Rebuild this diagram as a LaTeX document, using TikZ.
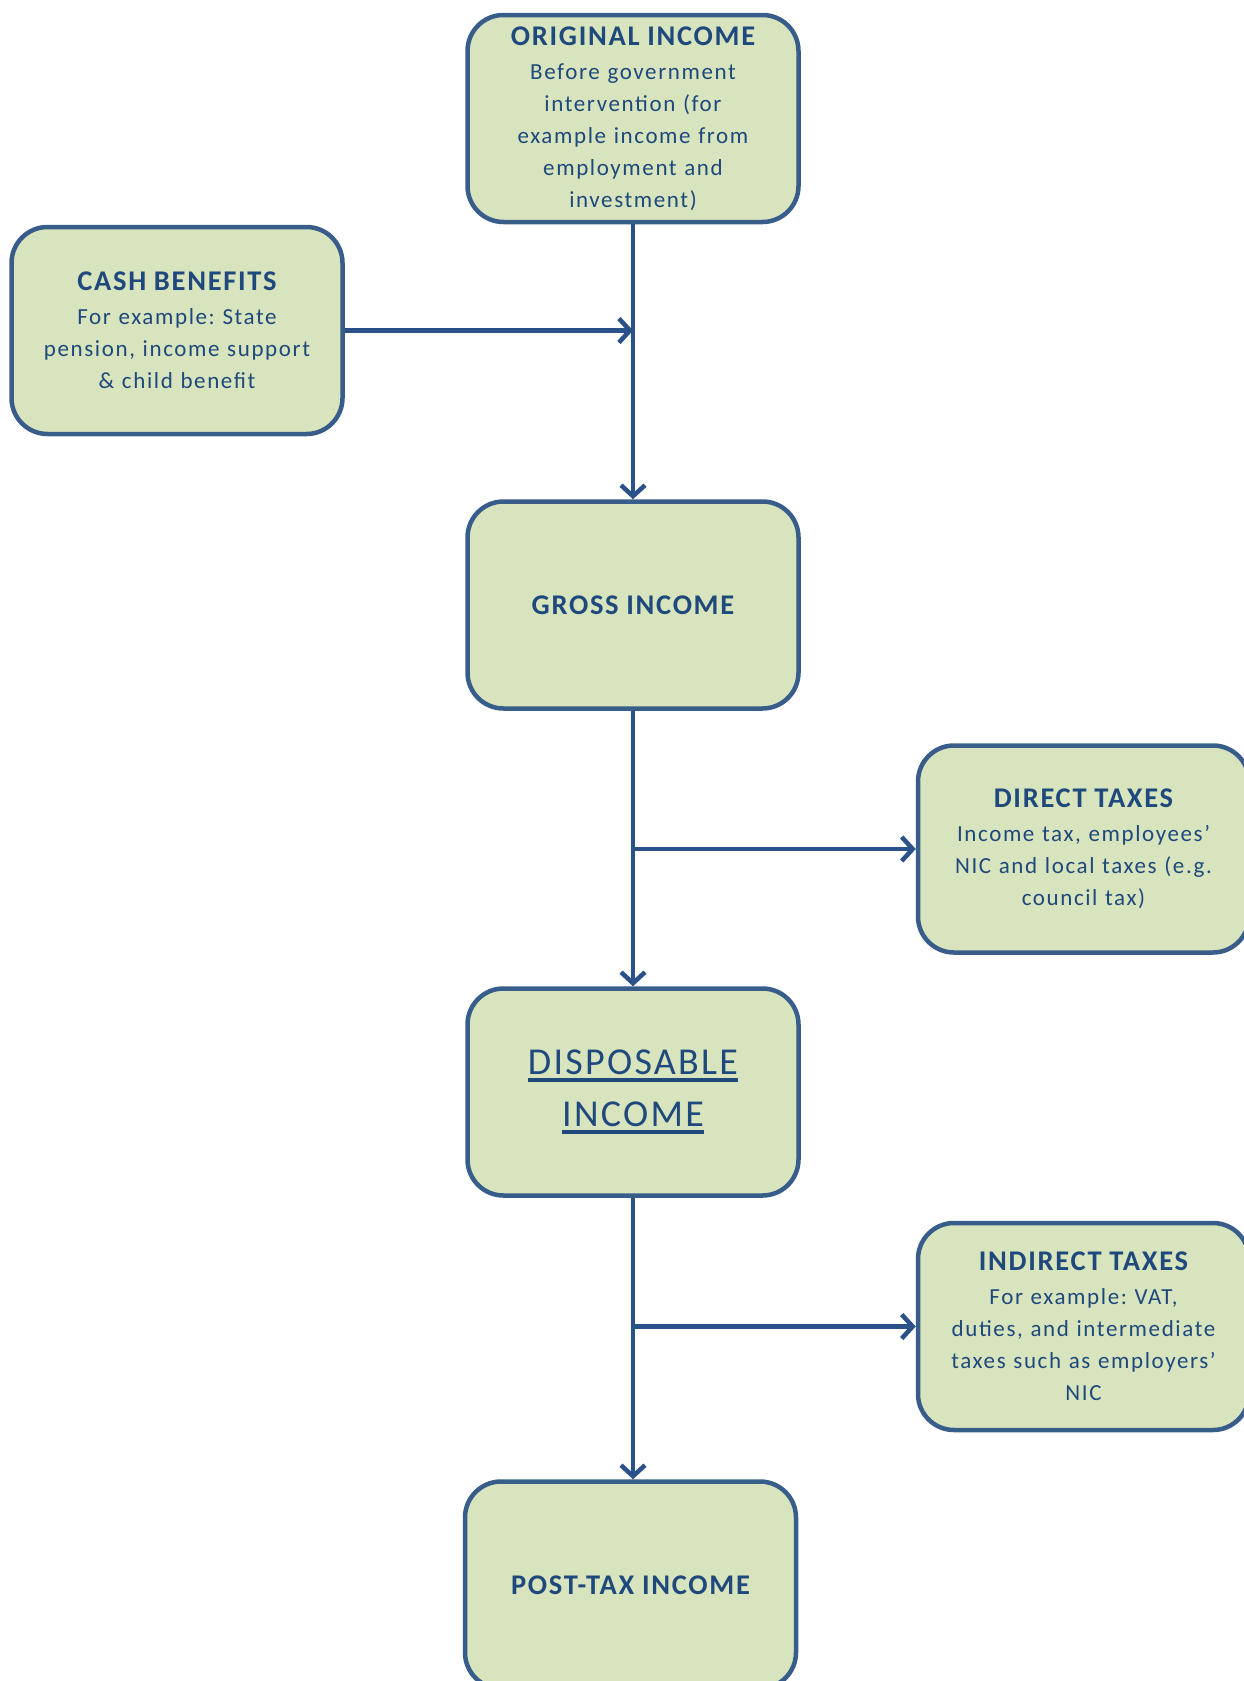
\documentclass[tikz,border=0pt]{standalone}
\usepackage{fontspec}
\setmainfont{Carlito}
\usetikzlibrary{arrows.meta}
\definecolor{boxfill}{HTML}{D7E4BD}
\definecolor{boxline}{HTML}{385D8A}
\definecolor{txt}{HTML}{1F497D}
\definecolor{arr}{HTML}{2A5189}
\frenchspacing
\tikzset{
  box/.style={draw=boxline, fill=boxfill, line width=4.5pt, rounded corners=36pt,
    minimum width=331pt, minimum height=207pt, text width=310pt, align=center,
    text=txt, inner sep=0pt, font=\fontsize{23}{32}\selectfont\addfontfeature{LetterSpace=7}},
  flow/.style={draw=arr, line width=4.5pt, -{Straight Barb[length=11pt,width=24pt,line width=4.5pt]}}
}
\newcommand{\ttlfont}{\fontsize{28.5}{32}\selectfont\bfseries\addfontfeature{LetterSpace=6}}
\newcommand{\thickul}[1]{\leavevmode\vtop{\hbox{#1}\kern3pt\hrule height 3.5pt}}
\begin{document}
\begin{tikzpicture}[x=1pt,y=-1pt]
\useasboundingbox (0,0) rectangle (1244,1681);
\begin{scope}
\clip (0,0) rectangle (1244,1681);
\node[box] (orig) at (633,118.5) {{\ttlfont ORIGINAL INCOME}\\[2pt]Before government\\ intervention (for\\ example income from\\ employment and\\ investment)};
\node[box] (cash) at (177,330.5) {{\ttlfont CASH BENEFITS}\\[2pt]For example: State\\ pension, income support\\ \& child benefit};
\node[box] (gross) at (633,605) {\ttlfont GROSS INCOME};
\node[box] (direct) at (1083.5,849) {{\ttlfont DIRECT TAXES}\\[2pt]Income tax, employees’\\ NIC and local taxes (e.g.\\ council tax)};
\node[box, font=\fontsize{38}{52}\selectfont\addfontfeature{LetterSpace=6}] (disp) at (633,1092) {\thickul{DISPOSABLE}\\ \thickul{INCOME}};
\node[box] (indirect) at (1083.5,1326.5) {{\ttlfont INDIRECT TAXES}\\[2pt]For example: VAT,\\ duties, and intermediate\\ taxes such as employers’\\ NIC};
\node[box] (post) at (630.5,1585) {\ttlfont POST-TAX INCOME};
\end{scope}
\coordinate (j1) at (633,330.5);
\coordinate (j2) at (633,849);
\coordinate (j3) at (633,1326.5);
\draw[flow] (orig.south) -- (gross.north);
\draw[flow] (cash.east) -- (j1);
\draw[flow] (gross.south) -- (disp.north);
\draw[flow] (j2) -- (direct.west);
\draw[flow] (disp.south) -- (disp.south |- post.north);
\draw[flow] (j3) -- (indirect.west);
\end{tikzpicture}
\end{document}
